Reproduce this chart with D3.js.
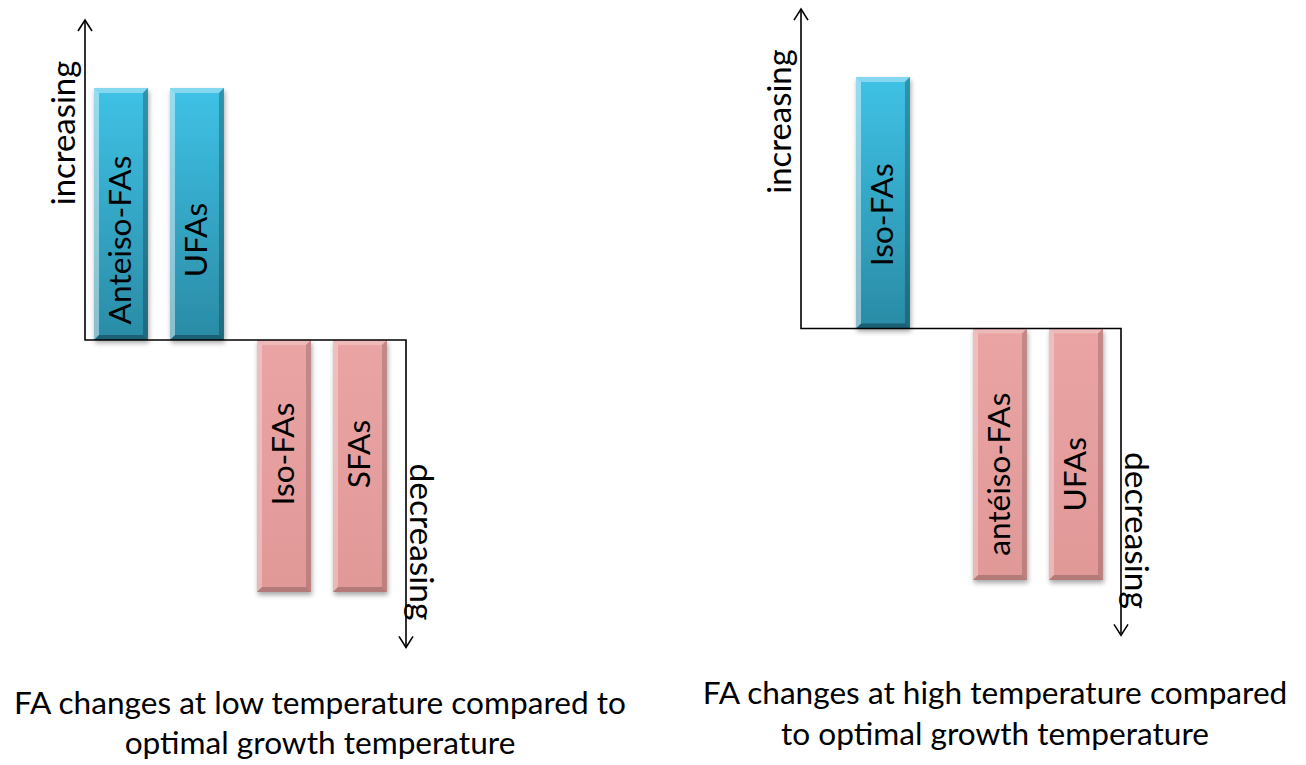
<!DOCTYPE html>
<html>
<head>
<meta charset="utf-8">
<script src="https://cdn.jsdelivr.net/npm/d3@7"></script>
<style>
body { margin: 0; background: #fff; }
svg { display: block; }
</style>
</head>
<body>
<div id="chart"></div>
<script>

// low temperature panel
var lowUpCats = ["Anteiso-FAs", "UFAs"];
var lowUpVals = [1, 1];
var lowDownCats = ["Iso-FAs", "SFAs"];
var lowDownVals = [-1, -1];

// high temperature panel
var highUpCats = ["Iso-FAs"];
var highUpVals = [1];
var highDownCats = ["antéiso-FAs", "UFAs"];
var highDownVals = [-1, -1];

var axisLabels = ["increasing", "decreasing"];
var lowTitle = ["FA changes at low temperature compared to", "optimal growth temperature"];
var highTitle = ["FA changes at high temperature compared", "to optimal growth temperature"];

var W = 1306, H = 765;
var FONT = "Lato, 'Open Sans', sans-serif";

var svg = d3.select("#chart").append("svg")
    .attr("width", W)
    .attr("height", H);

var defs = svg.append("defs");

var palettes = {
    up:   {top: "#3fc2e6", bottom: "#2a8ba5", hi: 0.45, lo: 0.3},
    down: {top: "#e9a4a3", bottom: "#e19998", hi: 0.3, lo: 0.2}
};

Object.keys(palettes).forEach(function(key){
    var p = palettes[key];
    var grad = defs.append("linearGradient")
        .attr("id", "grad-" + key)
        .attr("x1", 0).attr("y1", 0)
        .attr("x2", 0).attr("y2", 1);
    grad.append("stop").attr("offset", "0%").attr("stop-color", p.top);
    grad.append("stop").attr("offset", "100%").attr("stop-color", p.bottom);
});

var shadow = defs.append("filter")
    .attr("id", "barShadow")
    .attr("x", "-20%").attr("y", "-10%")
    .attr("width", "150%").attr("height", "130%");
shadow.append("feDropShadow")
    .attr("dx", 1).attr("dy", 3)
    .attr("stdDeviation", 2.5)
    .attr("flood-color", "#000")
    .attr("flood-opacity", 0.35);

// font size so that the first title line is as wide as in the picture
var probe = svg.append("text")
    .style("font-family", FONT)
    .style("font-size", "36px")
    .text(lowTitle[0]);
var fontSize = 36 * 612 / probe.node().getComputedTextLength();
probe.remove();

function zip(cats, vals){
    return cats.map(function(c, i){ return {name: c, value: vals[i]}; });
}

var panels = [
    {
        up: zip(lowUpCats, lowUpVals),
        down: zip(lowDownCats, lowDownVals),
        axisX: 85, yRange: [592, 88],
        upX: 94, downX: 257, cornerX: 406,
        labelShift: {up: 26, down: -12},
        title: lowTitle, titleX: 320, titleY: [714, 754]
    },
    {
        up: zip(highUpCats, highUpVals),
        down: zip(highDownCats, highDownVals),
        axisX: 801, yRange: [580, 77],
        upX: 856, downX: 973, cornerX: 1121,
        labelShift: {up: 12, down: 20},
        title: highTitle, titleX: 995, titleY: [704, 745]
    }
];

var STEP = 76;

function groupScale(data, x0){
    return d3.scaleBand()
        .domain(data.map(function(d){ return d.name; }))
        .range([x0, x0 + data.length * STEP])
        .paddingInner(0.29)
        .paddingOuter(0.145)
        .align(0);
}

function bevelBar(g, x, yT, w, h, key){
    var p = palettes[key];
    var b = 5;
    var yB = yT + h;
    var bar = g.append("g").attr("filter", "url(#barShadow)");
    bar.append("rect")
        .attr("x", x).attr("y", yT)
        .attr("width", w).attr("height", h)
        .attr("fill", "url(#grad-" + key + ")");
    var facets = [
        {pts: [[x, yT], [x + w, yT], [x + w - b, yT + b], [x + b, yT + b]], c: "#fff", o: p.hi * 0.8},
        {pts: [[x, yT], [x + b, yT + b], [x + b, yB - b], [x, yB]], c: "#fff", o: p.hi},
        {pts: [[x + w, yT], [x + w - b, yT + b], [x + w - b, yB - b], [x + w, yB]], c: "#000", o: p.lo * 0.8},
        {pts: [[x, yB], [x + w, yB], [x + w - b, yB - b], [x + b, yB - b]], c: "#000", o: p.lo}
    ];
    facets.forEach(function(f){
        bar.append("polygon")
            .attr("points", f.pts.map(function(q){ return q.join(","); }).join(" "))
            .attr("fill", f.c)
            .attr("fill-opacity", f.o);
    });
}

panels.forEach(function(pn){
    var g = svg.append("g");

    var y = d3.scaleLinear().domain([-1, 1]).range(pn.yRange);
    var zeroY = y(0);
    var xUp = groupScale(pn.up, pn.upX);
    var xDown = groupScale(pn.down, pn.downX);

    // bars
    [[pn.up, xUp, "up"], [pn.down, xDown, "down"]].forEach(function(set){
        var data = set[0], xs = set[1], key = set[2];
        data.forEach(function(d){
            var top = Math.min(y(d.value), zeroY);
            var h = Math.abs(y(d.value) - zeroY);
            bevelBar(g, xs(d.name), top, xs.bandwidth(), h, key);
            var cx = xs(d.name) + xs.bandwidth() / 2;
            var cy = top + h / 2 + pn.labelShift[key];
            g.append("text")
                .attr("transform", "translate(" + (cx + fontSize * 0.33) + "," + cy + ") rotate(-90)")
                .attr("text-anchor", "middle")
                .style("font-family", FONT)
                .style("font-size", fontSize + "px")
                .style("fill", "#000")
                .text(d.name);
        });
    });

    // axes
    var axisTop = y(1.27);
    var axisBottom = y(-1.22);
    var line = d3.line();
    g.append("path")
        .attr("d", line([[pn.axisX, axisTop], [pn.axisX, zeroY], [pn.cornerX, zeroY], [pn.cornerX, axisBottom]]))
        .attr("fill", "none")
        .attr("stroke", "#000")
        .attr("stroke-width", 1.6);
    g.append("path")
        .attr("d", line([[pn.axisX - 7, axisTop + 11], [pn.axisX, axisTop], [pn.axisX + 7, axisTop + 11]]))
        .attr("fill", "none")
        .attr("stroke", "#000")
        .attr("stroke-width", 1.6);
    g.append("path")
        .attr("d", line([[pn.cornerX - 7, axisBottom - 11], [pn.cornerX, axisBottom], [pn.cornerX + 7, axisBottom - 11]]))
        .attr("fill", "none")
        .attr("stroke", "#000")
        .attr("stroke-width", 1.6);

    g.append("text")
        .attr("transform", "translate(" + (pn.axisX - 10) + "," + (zeroY - 207) + ") rotate(-90)")
        .attr("text-anchor", "middle")
        .style("font-family", FONT)
        .style("font-size", (fontSize * 1.04) + "px")
        .text(axisLabels[0]);
    g.append("text")
        .attr("transform", "translate(" + (pn.cornerX + 4) + "," + (zeroY + 202) + ") rotate(90)")
        .attr("text-anchor", "middle")
        .style("font-family", FONT)
        .style("font-size", (fontSize * 1.06) + "px")
        .text(axisLabels[1]);

    // title
    pn.title.forEach(function(t, i){
        g.append("text")
            .attr("x", pn.titleX)
            .attr("y", pn.titleY[i])
            .attr("text-anchor", "middle")
            .style("font-family", FONT)
            .style("font-size", fontSize + "px")
            .text(t);
    });
});
</script>
</body>
</html>
